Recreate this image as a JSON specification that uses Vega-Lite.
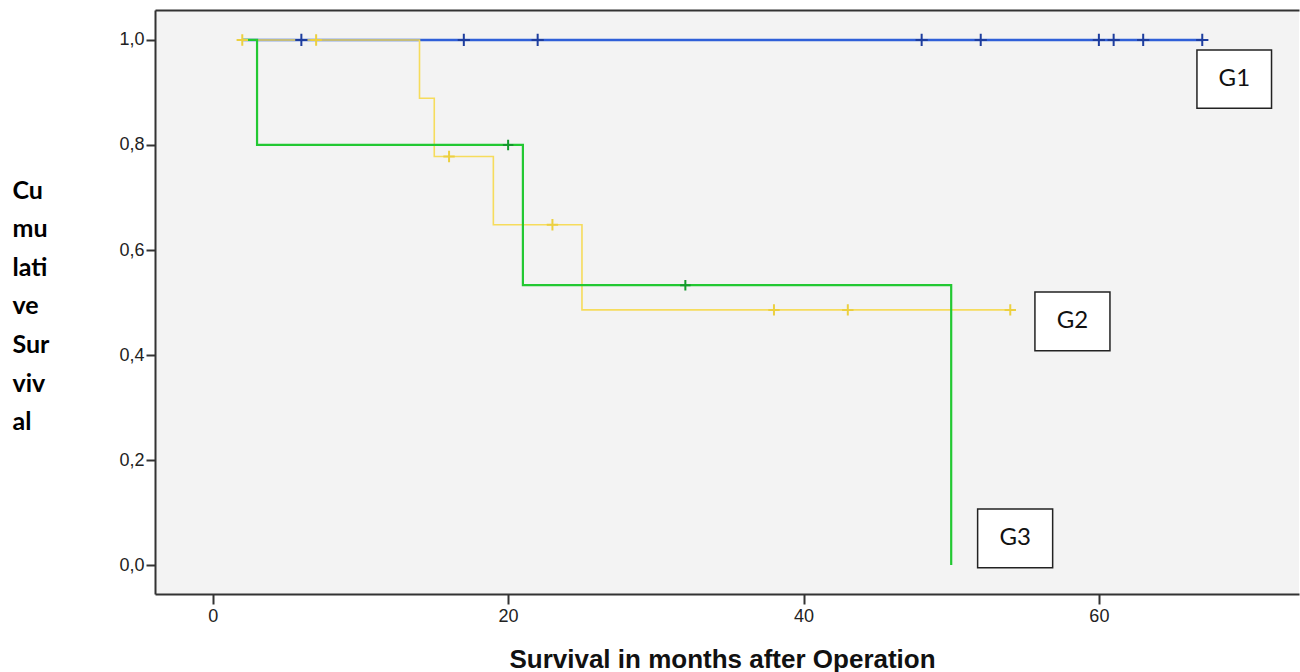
{
  "$schema": "https://vega.github.io/schema/vega-lite/v6.json",
  "width": 1144,
  "height": 584,
  "autosize": "none",
  "padding": {"left": 155, "top": 10, "right": 1, "bottom": 78},
  "background": "white",
  "config": {
    "view": {"fill": "#f3f3f3", "stroke": null}
  },
  "datasets": {
    "curves": [
      {"g": "G1", "t": 2, "s": 1},
      {"g": "G1", "t": 67, "s": 1},
      {"g": "G2", "t": 2, "s": 1},
      {"g": "G2", "t": 14, "s": 0.889},
      {"g": "G2", "t": 15, "s": 0.778},
      {"g": "G2", "t": 19, "s": 0.648},
      {"g": "G2", "t": 25, "s": 0.486},
      {"g": "G2", "t": 54, "s": 0.486},
      {"g": "G3", "t": 2, "s": 1},
      {"g": "G3", "t": 3, "s": 0.8},
      {"g": "G3", "t": 21, "s": 0.533},
      {"g": "G3", "t": 50, "s": 0},
      {"g": "G3", "t": 50, "s": 0}
    ],
    "censors": [
      {"g": "G1", "t": 6, "s": 1},
      {"g": "G1", "t": 17, "s": 1},
      {"g": "G1", "t": 22, "s": 1},
      {"g": "G1", "t": 48, "s": 1},
      {"g": "G1", "t": 52, "s": 1},
      {"g": "G1", "t": 60, "s": 1},
      {"g": "G1", "t": 61, "s": 1},
      {"g": "G1", "t": 63, "s": 1},
      {"g": "G1", "t": 67, "s": 1},
      {"g": "G2", "t": 2, "s": 1},
      {"g": "G2", "t": 7, "s": 1},
      {"g": "G2", "t": 16, "s": 0.778},
      {"g": "G2", "t": 23, "s": 0.648},
      {"g": "G2", "t": 38, "s": 0.486},
      {"g": "G2", "t": 43, "s": 0.486},
      {"g": "G2", "t": 54, "s": 0.486},
      {"g": "G3", "t": 20, "s": 0.8},
      {"g": "G3", "t": 32, "s": 0.533}
    ],
    "boxes": [
      {"label": "G1", "t": 66.64, "t2": 71.69, "s": 0.981, "s2": 0.870, "ct": 69.17, "cs": 0.926},
      {"label": "G2", "t": 55.67, "t2": 60.75, "s": 0.520, "s2": 0.408, "ct": 58.21, "cs": 0.464},
      {"label": "G3", "t": 51.79, "t2": 56.87, "s": 0.107, "s2": -0.005, "ct": 54.33, "cs": 0.051}
    ]
  },
  "encoding": {
    "x": {"field": "t", "type": "quantitative", "scale": {"domain": [-3.91, 73.55], "nice": false, "zero": false}, "axis": null},
    "y": {"field": "s", "type": "quantitative", "scale": {"domain": [-0.055, 1.057], "nice": false, "zero": false}, "axis": null}
  },
  "resolve": {"axis": {"x": "independent", "y": "independent"}},
  "layer": [
    {
      "data": {"name": "curves"},
      "transform": [{"filter": "datum.g == 'G1'"}],
      "mark": {"type": "line", "interpolate": "step-after", "color": "#2f5fd8", "strokeWidth": 2.5},
      "encoding": {
        "x": {
          "field": "t", "type": "quantitative",
          "scale": {"domain": [-3.91, 73.55], "nice": false, "zero": false},
          "axis": {
            "orient": "bottom",
            "values": [0, 20, 40, 60],
            "labelFont": "Liberation Sans", "labelFontSize": 18, "labelColor": "#222",
            "labelPadding": 3,
            "tickSize": 10, "tickWidth": 2, "tickColor": "#333",
            "domainColor": "#333", "domainWidth": 2,
            "grid": false,
            "title": "Survival in months after Operation",
            "titleFont": "Liberation Sans", "titleFontSize": 26, "titleFontWeight": "bold", "titleColor": "#111",
            "titleX": 567, "titleY": 73, "titleAlign": "center", "titleBaseline": "alphabetic"
          }
        },
        "y": {
          "field": "s", "type": "quantitative",
          "scale": {"domain": [-0.055, 1.057], "nice": false, "zero": false},
          "axis": {
            "orient": "left",
            "values": [0, 0.2, 0.4, 0.6, 0.8, 1.0],
            "labelExpr": "replace(format(datum.value, '.1f'), '.', ',')",
            "labelFont": "Liberation Sans", "labelFontSize": 18, "labelColor": "#222",
            "labelPadding": 2,
            "tickSize": 9, "tickWidth": 2, "tickColor": "#333",
            "domainColor": "#333", "domainWidth": 2,
            "grid": false,
            "title": ["Cu", "mu", "lati", "ve", "Sur", "viv", "al"],
            "titleAngle": 0, "titleAlign": "left", "titleBaseline": "alphabetic",
            "titleX": -143, "titleY": 188, "titleLineHeight": 38.6,
            "titleFont": "Lato", "titleFontSize": 25, "titleFontWeight": "bold", "titleColor": "#000"
          }
        }
      }
    },
    {
      "data": {"name": "curves"},
      "transform": [{"filter": "datum.g == 'G2'"}],
      "mark": {"type": "line", "interpolate": "step-after", "color": "#f6dc5c", "strokeWidth": 1.6},
      "encoding": {
        "x": {
          "field": "t", "type": "quantitative",
          "scale": {"domain": [-3.91, 73.55], "nice": false, "zero": false},
          "axis": {
            "orient": "top", "labels": false, "ticks": false, "grid": false, "title": null,
            "domainColor": "#333", "domainWidth": 2
          }
        }
      }
    },
    {
      "data": {"name": "curves"},
      "transform": [{"filter": "datum.g == 'G3'"}],
      "mark": {"type": "line", "interpolate": "step-after", "color": "#22c832", "strokeWidth": 2.2}
    },
    {
      "data": {"name": "censors"},
      "mark": {"type": "point", "shape": "M-1,0L1,0M0,-1L0,1", "filled": false, "strokeWidth": 2, "opacity": 1},
      "encoding": {
        "color": {
          "field": "g", "type": "nominal",
          "scale": {"domain": ["G1", "G2", "G3"], "range": ["#1d3d9e", "#ecd040", "#139a2c"]},
          "legend": null
        },
        "size": {
          "field": "g", "type": "nominal",
          "scale": {"domain": ["G1", "G2", "G3"], "range": [150, 110, 150]},
          "legend": null
        }
      }
    },
    {
      "data": {"name": "boxes"},
      "mark": {"type": "rect", "fill": "white", "stroke": "#222", "strokeWidth": 1.5},
      "encoding": {
        "x2": {"field": "t2"},
        "y2": {"field": "s2"}
      }
    },
    {
      "data": {"name": "boxes"},
      "mark": {"type": "text", "font": "Lato", "fontSize": 24, "color": "#111", "align": "center", "baseline": "middle"},
      "encoding": {
        "x": {"field": "ct", "type": "quantitative", "axis": null},
        "y": {"field": "cs", "type": "quantitative", "axis": null},
        "text": {"field": "label"}
      }
    }
  ]
}
